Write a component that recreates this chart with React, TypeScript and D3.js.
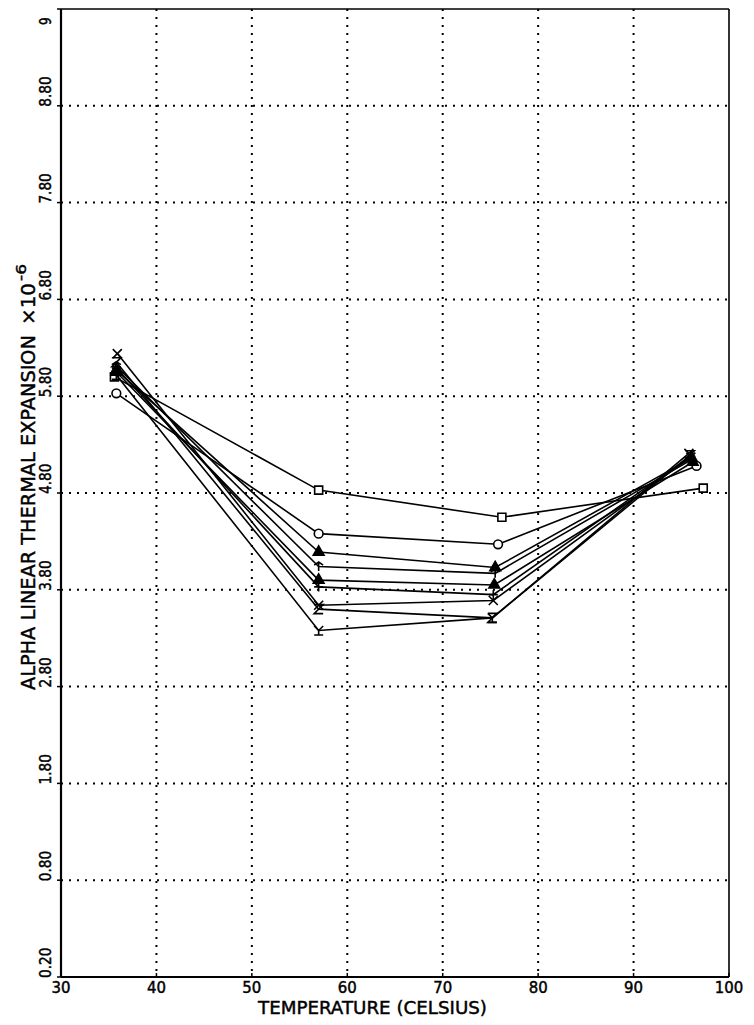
import React from 'react';
import * as d3 from 'd3';

// ---- data ----
const xTicks = [30, 40, 50, 60, 70, 80, 90, 100];
const xGridTicks = [40, 50, 60, 70, 80, 90];
const yTickValues = [0, 1, 2, 3, 4, 5, 6, 7, 8, 9, 10];
const yTickLabels = ['0.20', '0.80', '1.80', '2.80', '3.80', '4.80', '5.80', '6.80', '7.80', '8.80', '9'];
const yGridTicks = [1, 2, 3, 4, 5, 6, 7, 8, 9];

const seriesMarkers = ['square', 'circle', 'triangle', 'arrow', 'triangle2', 'plus', 'x', 'hourglass', 'y'];
const seriesTemps: number[][] = [
  [35.6, 57.0, 76.2, 97.3],
  [35.8, 57.0, 75.8, 96.6],
  [35.8, 57.0, 75.5, 96.1],
  [35.8, 57.0, 75.5, 96.0],
  [35.8, 57.0, 75.4, 96.2],
  [35.8, 57.0, 75.3, 96.0],
  [35.9, 57.0, 75.3, 96.0],
  [35.8, 57.0, 75.2, 95.9],
  [35.8, 57.0, 75.2, 95.8],
];
const seriesValues: number[][] = [
  [6.20, 5.03, 4.75, 5.05],
  [6.03, 4.58, 4.47, 5.28],
  [6.27, 4.39, 4.23, 5.36],
  [6.31, 4.24, 4.17, 5.34],
  [6.25, 4.10, 4.05, 5.32],
  [6.29, 4.03, 3.95, 5.38],
  [6.44, 3.84, 3.89, 5.37],
  [6.35, 3.80, 3.71, 5.39],
  [6.22, 3.58, 3.71, 5.41],
];

const FONT = "'DejaVu Sans', 'Liberation Sans', sans-serif";

function markerPath(kind: string): string {
  const s = 4.5;
  switch (kind) {
    case 'square':
      return d3.symbol(d3.symbolSquare, 64)() as string;
    case 'circle':
      return d3.symbol(d3.symbolCircle, 60)() as string;
    case 'triangle':
    case 'triangle2':
      return d3.symbol(d3.symbolTriangle, 50)() as string;
    case 'plus':
      return `M${-s},0L${s},0M0,${-s}L0,${s}`;
    case 'arrow':
      return `M0,${s}L0,${-s}M${-s},${-s + 3}L0,${-s}L${s},${-s + 3}`;
    case 'x':
      return `M${-s},${-s}L${s},${s}M${-s},${s}L${s},${-s}`;
    case 'hourglass':
      return `M${-s},${-s}L${s},${-s}L${-s},${s}L${s},${s}`;
    case 'y':
      return `M${-s},${-s}L0,0L${s},${-s}M0,0L0,${s}M${-s},${s}L${s},${s}`;
    default:
      return '';
  }
}

export default function App() {
  const left = 61, right = 729, top = 9, bottom = 977;
  const x = d3.scaleLinear().domain([30, 100]).range([left, right]);
  const y = d3.scaleLinear().domain([0, 10]).range([bottom, top]);
  const line = d3.line<[number, number]>().x(d => x(d[0])).y(d => y(d[1]));
  const textStroke = { stroke: '#000', strokeWidth: 0.45 };

  return (
    <svg width={754} height={1025} style={{ position: 'absolute', left: 0, top: 0, background: '#fff' }}
      fontFamily={FONT}>
      <rect x={0} y={0} width={754} height={1025} fill="#fff" />
      {/* grid */}
      {xGridTicks.map(t => (
        <line key={'gx' + t} x1={x(t)} x2={x(t)} y1={top} y2={bottom} stroke="#000" strokeWidth={2}
          strokeDasharray="2 6" />
      ))}
      {yGridTicks.map(t => (
        <line key={'gy' + t} x1={left} x2={right} y1={y(t)} y2={y(t)} stroke="#000" strokeWidth={2}
          strokeDasharray="2 6" />
      ))}
      {/* frame */}
      <line x1={left} x2={right} y1={top} y2={top} stroke="#000" strokeWidth={1.6} />
      <line x1={right} x2={right} y1={top} y2={bottom} stroke="#000" strokeWidth={1.6} />
      <line x1={left} x2={left} y1={top} y2={bottom} stroke="#000" strokeWidth={2.2} />
      <line x1={left} x2={right} y1={bottom} y2={bottom} stroke="#000" strokeWidth={2.2} />
      {/* ticks */}
      {xTicks.map(t => (
        <line key={'tx' + t} x1={x(t)} x2={x(t)} y1={bottom} y2={bottom - 4} stroke="#000" strokeWidth={1.5} />
      ))}
      {yTickValues.map(t => (
        <line key={'ty' + t} x1={left} x2={left - 4} y1={y(t)} y2={y(t)} stroke="#000" strokeWidth={1.5} />
      ))}
      {/* x tick labels */}
      {xTicks.map(t => {
        const lbl = String(t);
        return (
          <text key={'lx' + t} x={x(t)} y={993} textAnchor="middle" fontSize={15} {...textStroke}
            textLength={lbl.length * 9.5} lengthAdjust="spacingAndGlyphs">{lbl}</text>
        );
      })}
      {/* y tick labels */}
      {yTickValues.map((t, i) => {
        const lbl = yTickLabels[i];
        const py = i === yTickValues.length - 1 ? y(t) + 16 : y(t) + 1;
        return (
          <text key={'ly' + t} transform={`translate(51,${py}) rotate(-90)`} x={0} y={0} fontSize={15}
            {...textStroke} textLength={lbl.length * 7.6} lengthAdjust="spacingAndGlyphs">{lbl}</text>
        );
      })}
      {/* axis titles */}
      <text x={258} y={1014} fontSize={18} {...textStroke} textLength={229} lengthAdjust="spacingAndGlyphs">TEMPERATURE  (CELSIUS)</text>
      <g transform="translate(35,0) rotate(-90)">
        <text x={-690} y={0} fontSize={19} {...textStroke} textLength={355} lengthAdjust="spacingAndGlyphs">ALPHA  LINEAR THERMAL EXPANSION</text>
        <text x={-325} y={0} fontSize={19} {...textStroke} textLength={42} lengthAdjust="spacingAndGlyphs">×10</text>
        <text x={-281} y={-9} fontSize={14} {...textStroke} textLength={17} lengthAdjust="spacingAndGlyphs">-6</text>
      </g>
      {/* series */}
      {seriesValues.map((vals, si) => {
        const pts = vals.map((v, i) => [seriesTemps[si][i], v] as [number, number]);
        const kind = seriesMarkers[si];
        return (
          <g key={'s' + si}>
            <path d={line(pts) as string} fill="none" stroke="#000" strokeWidth={1.6} />
            {pts.map((p, pi) => (
              <path key={pi} transform={`translate(${x(p[0])},${y(p[1])})`} d={markerPath(kind)}
                fill={kind === 'square' || kind === 'circle' ? '#fff' : kind.startsWith('triangle') ? '#000' : 'none'}
                stroke="#000" strokeWidth={1.6} />
            ))}
          </g>
        );
      })}
    </svg>
  );
}
